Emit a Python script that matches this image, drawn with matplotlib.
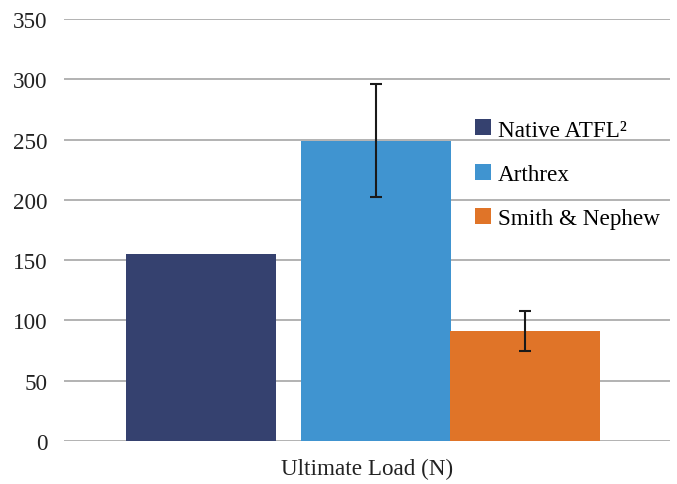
import numpy as np
import matplotlib
matplotlib.use("Agg")
import matplotlib.pyplot as plt

labels = ["Native ATFL\u00b2", "Arthrex", "Smith & Nephew"]
values = [155.5, 249, 91]
errors = [0, 47, 16.5]
colors = ["#35416f", "#4094d0", "#e07428"]

# bar centres, in bar widths
xpos = [0, 1.167, 2.163]

plt.rcParams['font.family'] = ['Liberation Serif', 'DejaVu Serif']
fs = 16.7

fig = plt.figure(figsize=(6.77, 4.85), dpi=100)
ax = fig.add_axes([64 / 677, 1 - 442 / 485, 606 / 677, 422 / 485])

handles = []
for x, v, e, c, lab in zip(xpos, values, errors, colors, labels):
    b = ax.bar(x, v, width=1.0, color=c, label=lab, zorder=2)
    handles.append(b)
    if e > 0:
        ax.errorbar(x, v, yerr=e, fmt='none', ecolor='#1a1a1a',
                    elinewidth=1.5, capsize=4.3, capthick=1.5, zorder=3)

ax.set_xlim(-0.913, 3.127)
ax.set_ylim(0, 350)
ax.set_yticks(np.arange(0, 351, 50))
ax.set_xticks([])
ax.grid(axis='y', color='#a6a6a6', linewidth=1.2, zorder=0)
for s in ax.spines.values():
    s.set_visible(False)
ax.tick_params(axis='y', length=0, pad=12, labelsize=fs, labelcolor='#222222')
ax.set_xlabel("Ultimate Load (N)", fontsize=fs, color='#222222', labelpad=12)

ax.legend(handles=handles, loc='center left', bbox_to_anchor=(0.663, 0.632),
          frameon=False, fontsize=fs, handlelength=0.69, handleheight=0.69,
          handletextpad=0.28, labelspacing=1.0, borderaxespad=0)

fig.savefig("out.png", dpi=100)
